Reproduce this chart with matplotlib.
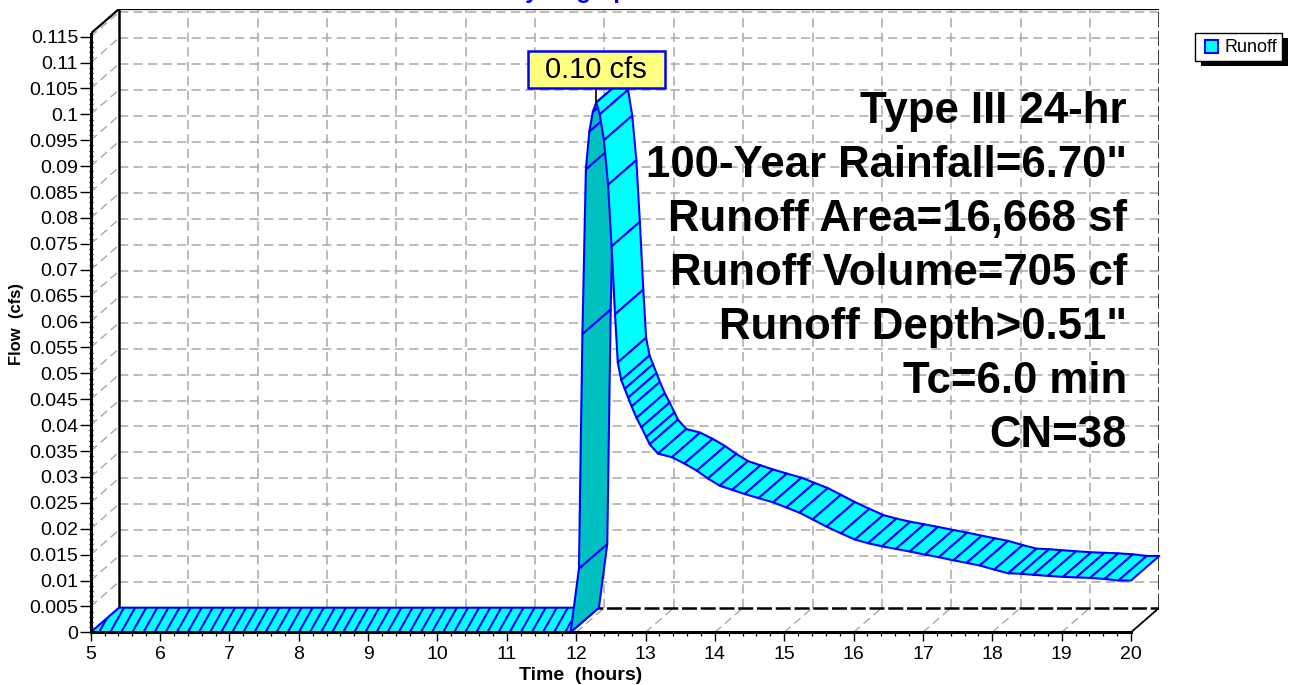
import numpy as np
import matplotlib
matplotlib.use("Agg")
import matplotlib.pyplot as plt
from matplotlib.patches import Polygon, Rectangle
from matplotlib.collections import LineCollection
from matplotlib.ticker import FixedLocator

plt.rcParams['font.family'] = ['Liberation Sans', 'DejaVu Sans']

# ---- hydrograph (front edge of the ribbon) ----
time_hr = [5.00, 11.92, 12.04, 12.09, 12.14, 12.19, 12.24, 12.29,
           12.34, 12.40, 12.46, 12.51, 12.56, 12.60, 12.65, 12.70, 12.75,
           12.80, 12.87, 12.94, 13.01, 13.06, 13.18, 13.38, 13.56, 13.74,
           13.90, 14.07, 14.25, 14.43, 14.63, 14.84, 15.03, 15.22, 15.41,
           15.61, 15.82, 16.02, 16.21, 16.41, 16.61, 16.81, 17.03, 17.23,
           17.44, 17.63, 17.82, 18.03, 18.23, 18.41, 18.59, 18.80, 19.02,
           19.21, 19.41, 19.62, 19.82, 20.00]
flow_cfs = [0.0, 0.0, 0.0123, 0.0576, 0.0894, 0.0967, 0.1005, 0.1023,
            0.1000, 0.0950, 0.0864, 0.0745, 0.0614, 0.0521, 0.0487, 0.0470, 0.0453,
            0.0436, 0.0414, 0.0396, 0.0377, 0.0363, 0.0345, 0.0338, 0.0326, 0.0312,
            0.0297, 0.0283, 0.0275, 0.0267, 0.0259, 0.0251, 0.0241, 0.0231, 0.0218,
            0.0204, 0.0191, 0.0179, 0.0172, 0.0166, 0.0161, 0.0156, 0.0150, 0.0145,
            0.0139, 0.0134, 0.0129, 0.0121, 0.0114, 0.0113, 0.0111, 0.0109, 0.0107,
            0.0106, 0.0105, 0.0103, 0.0100, 0.0100]

x_ticks = list(range(5, 21))
x_labels = [str(v) for v in x_ticks]
y_ticks = [i * 0.005 for i in range(24)]
y_labels = ['0', '0.005', '0.01', '0.015', '0.02', '0.025', '0.03', '0.035',
            '0.04', '0.045', '0.05', '0.055', '0.06', '0.065', '0.07', '0.075',
            '0.08', '0.085', '0.09', '0.095', '0.1', '0.105', '0.11', '0.115']

series_name = 'Runoff'
title = 'Hydrograph'
x_title = 'Time  (hours)'
y_title = 'Flow  (cfs)'
info_lines = ['Type III 24-hr', '100-Year Rainfall=6.70"', 'Runoff Area=16,668 sf',
              'Runoff Volume=705 cf', 'Runoff Depth>0.51"', 'Tc=6.0 min', 'CN=38']

# ---- layout (pixels) ----
W, H = 1294, 685
X0, X1 = 5.0, 20.0
Y_TOP = 0.1156          # top of the front frame
DX, DY = 0.408, 0.00475  # depth of the 3-D box in data units

BLUE = '#0000FF'
CYAN = '#00FFFF'
DARK = '#00C0C0'
GRID = '#A8A8A8'


def fx(px):
    return px / W


def fy(py):
    return (H - py) / H


fig = plt.figure(figsize=(W / 100, H / 100), dpi=100)
ax = fig.add_axes([fx(90.7), fy(632.3), fx(1159.3) - fx(90.7), fy(9) - fy(632.3)])
ax.set_xlim(X0, X1 + DX)
ax.set_ylim(0, Y_TOP + DY)
ax.patch.set_visible(False)

# ---- box: back wall, floor and left wall guides ----
dash = (0, (6, 3.5))
for v in y_ticks[1:]:
    ax.plot([X0 + DX, X1 + DX], [v + DY, v + DY], color=GRID, lw=1.1, ls=dash, zorder=1)
    ax.plot([X0, X0 + DX], [v, v + DY], color=GRID, lw=1.0, ls=dash, zorder=1)
for v in x_ticks[1:-1]:
    ax.plot([v + DX, v + DX], [DY, Y_TOP + DY], color=GRID, lw=1.1, ls=dash, zorder=1)
    ax.plot([v, v + DX], [0, DY], color=GRID, lw=1.0, ls=dash, zorder=1)

ax.plot([X0 + DX, X0 + DX], [DY, Y_TOP + DY], color='black', lw=1.8, zorder=2)
ax.plot([X0, X0 + DX, X1 + DX], [Y_TOP, Y_TOP + DY, Y_TOP + DY], color='black', lw=1.6, zorder=2)
ax.plot([X0 + DX, X1 + DX], [DY, DY], color='black', lw=1.8, ls=(0, (6, 1.5)), zorder=2)
ax.plot([X1 + DX, X1 + DX], [DY, Y_TOP + DY], color='black', lw=1.8, ls=(0, (6, 1.5)), zorder=2)
ax.plot([X1, X1 + DX], [0, DY], color='black', lw=1.3, zorder=2)

# ---- ribbon ----
t = np.array(time_hr)
q = np.array(flow_cfs)
for i in range(len(t) - 1):
    quad = [(t[i], q[i]), (t[i + 1], q[i + 1]),
            (t[i + 1] + DX, q[i + 1] + DY), (t[i] + DX, q[i] + DY)]
    fc = DARK if q[i + 1] > q[i] else CYAN
    poly = Polygon(quad, closed=True, facecolor=fc, edgecolor=BLUE, lw=1.5,
                   joinstyle='round', zorder=3, clip_on=False)
    ax.add_patch(poly)
    if q[i] == 0 and q[i + 1] == 0:
        starts = np.arange(t[i] - 0.2, t[i + 1], 0.16)
        segs = [[(s, 0.0), (s + 0.2, DY)] for s in starts]
        lc = LineCollection(segs, colors=BLUE, linewidths=1.5, zorder=3)
        ax.add_collection(lc)
        lc.set_clip_path(poly)

# ---- front axes ----
for side in ('top', 'right'):
    ax.spines[side].set_visible(False)
ax.spines['left'].set_bounds(0, Y_TOP)
ax.spines['bottom'].set_bounds(X0, X1)
ax.spines['left'].set_linewidth(2.2)
ax.spines['bottom'].set_linewidth(2.2)
ax.spines['left'].set_zorder(5)
ax.spines['bottom'].set_zorder(5)

ax.set_xticks(x_ticks, x_labels)
ax.set_yticks(y_ticks, y_labels)
ax.xaxis.set_minor_locator(FixedLocator(np.arange(X0, X1 + 0.001, 0.2)))
ax.yaxis.set_minor_locator(FixedLocator(np.arange(0, 0.1151, 0.001)))
ax.tick_params(axis='x', which='major', length=6.5, width=1.0, pad=3.5, labelsize=14)
ax.tick_params(axis='y', which='major', length=8, width=1.0, pad=1, labelsize=14)
ax.tick_params(axis='x', which='minor', length=3, width=0.9)
ax.tick_params(axis='y', which='minor', length=3.5, width=0.9, direction='inout')

fig.text(fx(581), fy(675), x_title, ha='center', va='center', fontsize=14, fontweight='bold')
fig.text(fx(17), fy(324), y_title, ha='center', va='center', rotation=90, fontsize=12, fontweight='bold')
fig.text(fx(575), fy(-2), title, ha='center', va='baseline', fontsize=17, fontweight='bold', color=BLUE)

# ---- storm information ----
baselines = [122.5, 176.7, 231, 285, 339, 393, 447]
for line, b in zip(info_lines, baselines):
    fig.text(fx(1127), fy(b), line, ha='right', va='baseline', fontsize=31.5,
             fontweight='bold', color='black', zorder=6)

# ---- peak label ----
ip = int(np.argmax(q))
px, py = ax.transData.transform((t[ip], q[ip]))
box_w, box_h, gap = 137, 37, 14
box_bottom = py + gap
ax.plot([t[ip], t[ip]], [q[ip], ax.transData.inverted().transform((px, box_bottom))[1]],
        color='black', lw=1.2, zorder=7, clip_on=False)
fig.patches.append(Rectangle((px - box_w / 2, box_bottom), box_w, box_h, transform=None,
                             facecolor='#FFFF80', edgecolor=BLUE, lw=1.8, zorder=8))
fig.text((px) / W, (box_bottom + box_h / 2) / H, f'{q[ip]:.2f} cfs', ha='center',
         va='center', fontsize=21, color='black', zorder=9)

# ---- legend ----
lx0, ly0, lx1, ly1 = 1195, 33, 1282, 61
fig.patches.append(Rectangle((fx(lx0 + 6), fy(ly1 + 5)), fx(lx1 - lx0), fy(ly0) - fy(ly1),
                             transform=fig.transFigure, facecolor='black', edgecolor='none', zorder=8))
fig.patches.append(Rectangle((fx(lx0), fy(ly1)), fx(lx1 - lx0), fy(ly0) - fy(ly1),
                             transform=fig.transFigure, facecolor='white', edgecolor='black',
                             lw=1.0, zorder=9))
fig.patches.append(Rectangle((fx(1205), fy(53)), fx(12.5), fy(40.5) - fy(53),
                             transform=fig.transFigure, facecolor=CYAN, edgecolor=BLUE,
                             lw=1.5, zorder=10))
fig.text(fx(1225), fy(47), series_name, ha='left', va='center', fontsize=13, zorder=10)

fig.savefig('out.png', dpi=100, facecolor='white')
